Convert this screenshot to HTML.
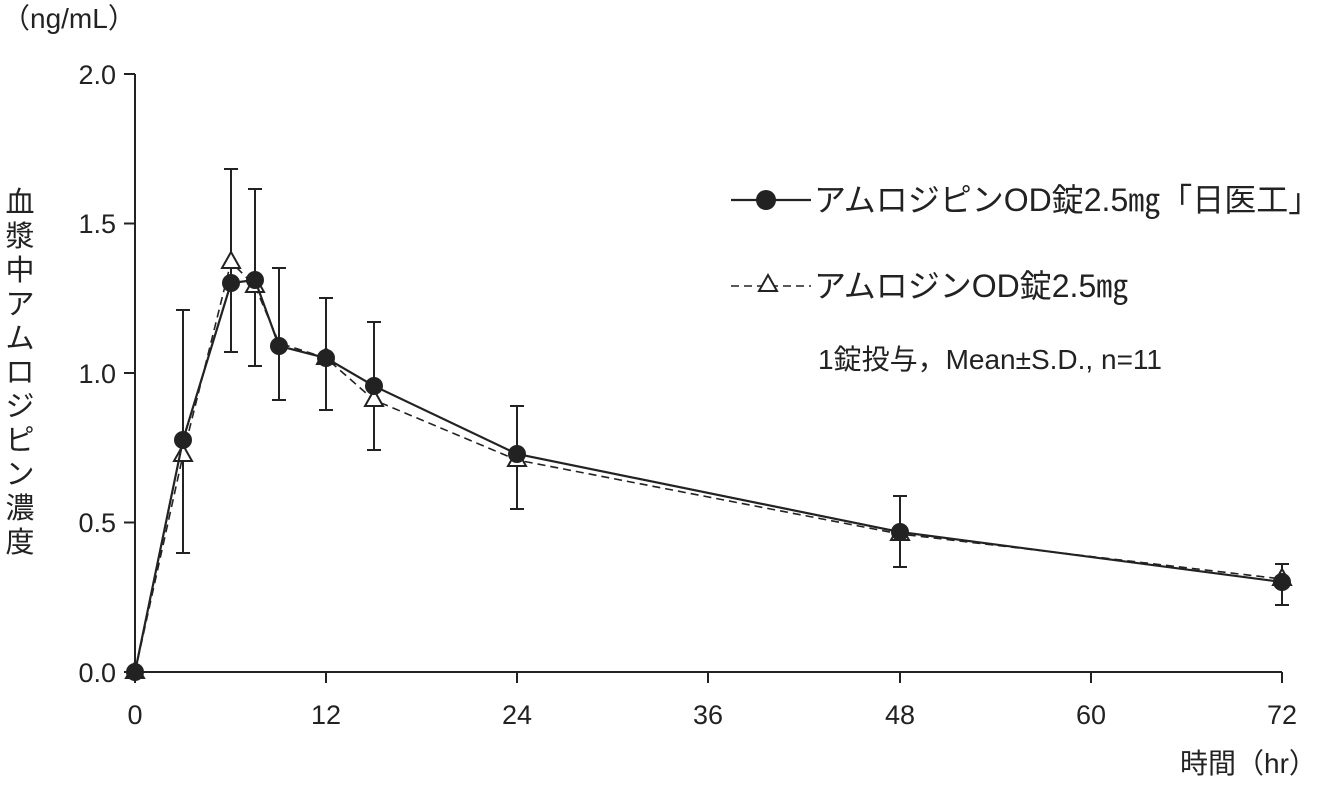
<!DOCTYPE html>
<html><head><meta charset="utf-8"><style>
body{margin:0;background:#fff;}
text{font-family:"Liberation Sans","Noto Sans CJK JP",sans-serif;fill:#222;}
</style></head><body>
<svg width="1344" height="781" xmlns="http://www.w3.org/2000/svg">
<g stroke="#222" stroke-width="2" fill="none">
<line x1="135" y1="74" x2="135" y2="672"/>
<line x1="135" y1="672" x2="1282" y2="672"/>
<line x1="124" y1="74" x2="135" y2="74"/>
<line x1="124" y1="223.5" x2="135" y2="223.5"/>
<line x1="124" y1="373" x2="135" y2="373"/>
<line x1="124" y1="522.5" x2="135" y2="522.5"/>
<line x1="124" y1="672" x2="135" y2="672"/>
<line x1="135" y1="672" x2="135" y2="683"/>
<line x1="326" y1="672" x2="326" y2="683"/>
<line x1="517" y1="672" x2="517" y2="683"/>
<line x1="708" y1="672" x2="708" y2="683"/>
<line x1="900" y1="672" x2="900" y2="683"/>
<line x1="1091" y1="672" x2="1091" y2="683"/>
<line x1="1282" y1="672" x2="1282" y2="683"/>
</g>
<g font-size="27" text-anchor="end">
<text x="116" y="84">2.0</text><text x="116" y="233">1.5</text><text x="116" y="383">1.0</text><text x="116" y="532">0.5</text><text x="116" y="682">0.0</text>
</g>
<g font-size="27" text-anchor="middle">
<text x="135" y="724">0</text><text x="326" y="724">12</text><text x="517" y="724">24</text><text x="708" y="724">36</text><text x="900" y="724">48</text><text x="1091" y="724">60</text><text x="1282" y="724">72</text>
</g>
<text x="2" y="28" font-size="28">（ng/mL）</text>
<text x="1180" y="773" font-size="28">時間（hr）</text>
<g font-size="29" text-anchor="middle">
<text x="20" y="212">血</text><text x="20" y="246">漿</text><text x="20" y="280">中</text><text x="20" y="314">ア</text><text x="20" y="348">ム</text><text x="20" y="382">ロ</text><text x="20" y="416">ジ</text><text x="20" y="450">ピ</text><text x="20" y="484">ン</text><text x="20" y="518">濃</text><text x="20" y="552">度</text>
</g>
<g stroke="#222" stroke-width="2">
<path d="M183 553V310M176 553h14M176 310h14"/>
<path d="M231 352V169M224 352h14M224 169h14"/>
<path d="M255 366V189M248 366h14M248 189h14"/>
<path d="M279 400V268M272 400h14M272 268h14"/>
<path d="M326 410V298M319 410h14M319 298h14"/>
<path d="M374 450V322M367 450h14M367 322h14"/>
<path d="M517 509V406M510 509h14M510 406h14"/>
<path d="M900 567V496M893 567h14M893 496h14"/>
<path d="M1282 605V564M1275 605h14M1275 564h14"/>
</g>
<polyline fill="none" stroke="#222" stroke-width="1.6" stroke-dasharray="8,5" points="135,672 183,455 231,262 255,286 279,343 326,358 374,400 517,460 900,534 1282,579"/>
<g fill="#fff" stroke="#222" stroke-width="2">
<path d="M135 662l9 16h-18z"/><path d="M183 445l9 16h-18z"/><path d="M231 252l9 16h-18z"/><path d="M255 276l9 16h-18z"/><path d="M326 348l9 16h-18z"/><path d="M374 390l9 16h-18z"/><path d="M517 450l9 16h-18z"/><path d="M900 524l9 16h-18z"/><path d="M1282 569l9 16h-18z"/>
</g>
<polyline fill="none" stroke="#222" stroke-width="2.2" points="135,672 183,440 231,283 255,280 279,346 326,358 374,386 517,454 900,532 1282,582"/>
<g fill="#222">
<circle cx="135" cy="672" r="9"/><circle cx="183" cy="440" r="9"/><circle cx="231" cy="283" r="9"/><circle cx="255" cy="280" r="9"/><circle cx="279" cy="346" r="9"/><circle cx="326" cy="358" r="9"/><circle cx="374" cy="386" r="9"/><circle cx="517" cy="454" r="9"/><circle cx="900" cy="532" r="9"/><circle cx="1282" cy="582" r="9"/>
</g>
<line x1="731" y1="200" x2="811" y2="200" stroke="#222" stroke-width="2.2"/>
<circle cx="766" cy="200" r="10" fill="#222"/>
<text x="814" y="211" font-size="32">アムロジピンOD錠2.5㎎「日医工」</text>
<line x1="731" y1="286" x2="811" y2="286" stroke="#222" stroke-width="1.6" stroke-dasharray="8,5"/>
<path d="M768 275l9 16h-18z" fill="#fff" stroke="#222" stroke-width="2"/>
<text x="814" y="297" font-size="32">アムロジンOD錠2.5㎎</text>
<text x="818" y="369" font-size="28">1錠投与，Mean±S.D., n=11</text>
</svg>
</body></html>
